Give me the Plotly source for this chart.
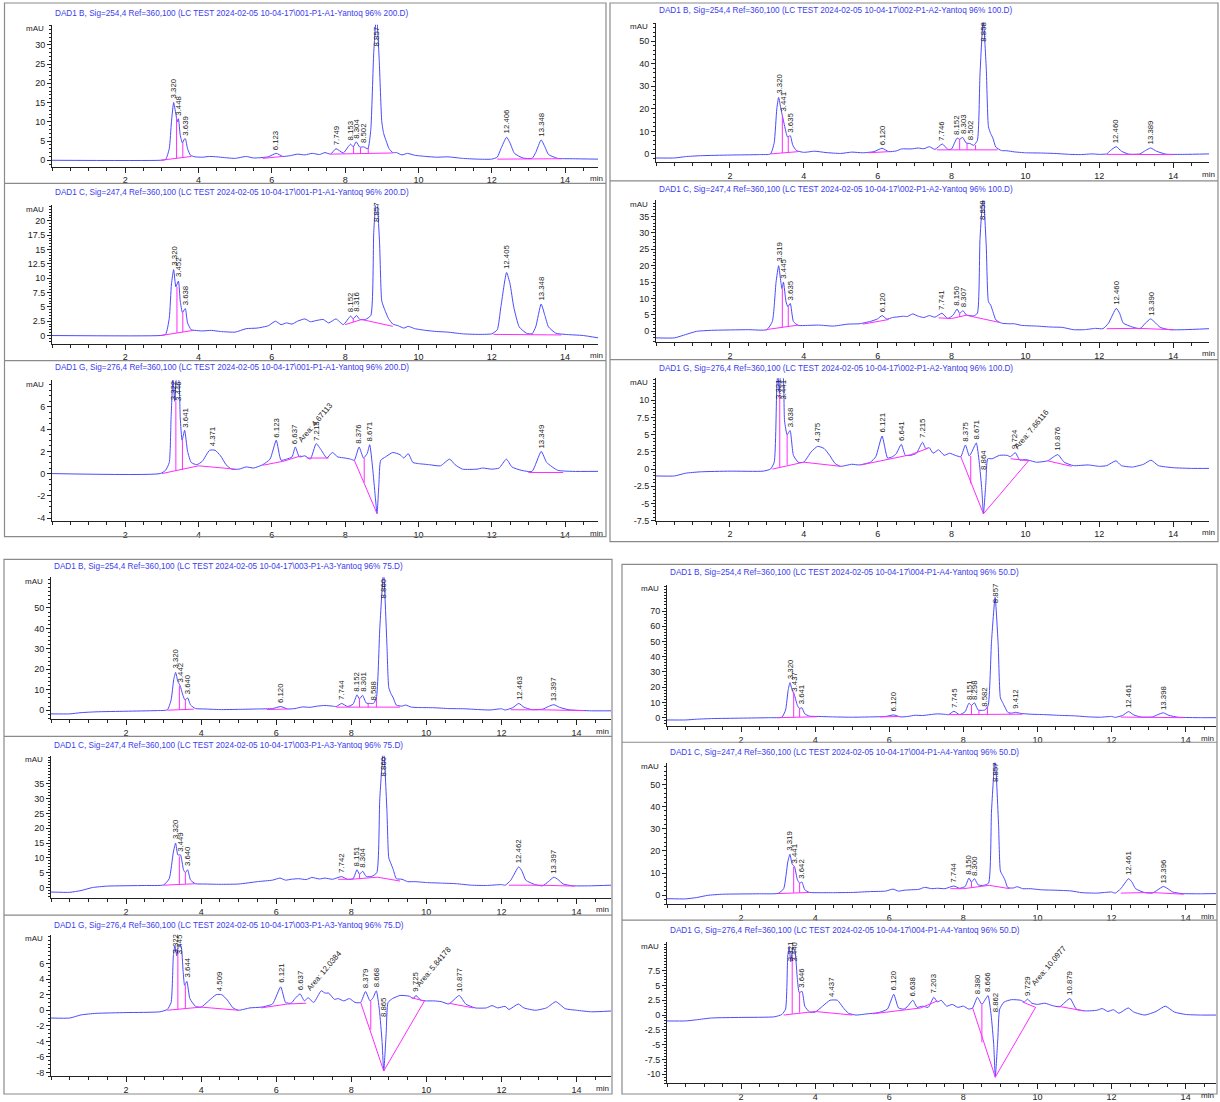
import plotly.graph_objects as go

# ------------------------------------------------------------------
# Values (time in min, signal in mAU)
# ------------------------------------------------------------------
A1_B = [(0,0),(2.95,0),(3.1,0.2),(3.2,3),(3.26,10),(3.32,15),(3.38,12),(3.42,10),(3.45,10.8),(3.5,6.5),(3.56,4.5),(3.61,5.5),(3.64,5.6),(3.7,3),(3.78,1.3),(3.9,0.9),(4.1,0.8),(4.3,1.0),(4.5,0.9),(4.7,0.7),(5.0,0.5),(5.3,1.0),(5.5,0.6),(5.9,0.9),(6.12,1.8),(6.3,1.0),(6.5,1.2),(6.7,1.6),(6.9,1.4),(7.1,1.8),(7.3,1.5),(7.45,2.0),(7.6,1.6),(7.75,3.0),(7.95,1.9),(8.08,3.5),(8.15,4.2),(8.22,3.5),(8.3,4.8),(8.4,3.4),(8.5,3.5),(8.62,3.0),(8.7,8),(8.78,28),(8.857,38),(8.93,26),(9.0,10),(9.05,7),(9.12,5),(9.2,3),(9.3,2.0),(9.4,2.0),(9.55,1.4),(9.7,1.8),(9.9,1.3),(10.2,1.0),(10.5,0.8),(10.8,0.9),(11.2,0.5),(11.6,0.3),(12.0,0.3),(12.15,0.8),(12.25,3),(12.406,6.0),(12.5,4.5),(12.62,1.8),(12.85,0.6),(13.1,0.5),(13.2,2),(13.348,5.3),(13.45,3.5),(13.55,1.5),(13.8,0.5),(14.2,0.4),(14.9,0.3)]
A1_C = [(0,0),(2.95,0),(3.1,0.2),(3.2,3),(3.26,9),(3.32,11.5),(3.38,8.5),(3.45,9.5),(3.5,6),(3.56,4),(3.62,4.6),(3.64,4.7),(3.7,2.2),(3.8,1.0),(3.9,0.9),(4.1,0.8),(4.35,0.9),(4.6,0.7),(5.0,0.6),(5.3,1.2),(5.6,1.3),(5.9,1.7),(6.1,2.5),(6.25,1.9),(6.4,2.2),(6.55,2.0),(6.7,2.5),(6.9,2.9),(7.05,2.4),(7.2,2.6),(7.4,2.8),(7.55,2.2),(7.75,2.9),(7.95,1.9),(8.15,3.4),(8.22,2.9),(8.31,3.5),(8.4,2.8),(8.55,2.8),(8.7,3.5),(8.78,18),(8.857,25),(8.94,16),(9.0,6),(9.08,4.5),(9.18,3),(9.3,2.0),(9.45,1.7),(9.6,1.3),(9.72,1.6),(9.9,1.2),(10.2,0.9),(10.5,0.7),(10.8,0.6),(11.2,0.3),(11.6,0.2),(12.0,0.3),(12.15,1),(12.25,5),(12.405,11),(12.5,9),(12.6,5),(12.75,1.5),(12.95,0.4),(13.1,0.3),(13.2,1.5),(13.348,5.5),(13.45,3.5),(13.55,1.5),(13.75,0.4),(14.0,0.2),(14.5,0.0),(14.9,-0.4)]
A1_G = [(0,0),(2.95,0),(3.1,0.3),(3.2,1),(3.25,5),(3.30,8.6),(3.35,6.5),(3.40,8.6),(3.45,8.6),(3.5,5),(3.55,3.0),(3.62,3.9),(3.7,2.0),(3.8,1.0),(3.95,0.8),(4.1,1.1),(4.3,2.1),(4.45,2.1),(4.6,1.6),(4.75,0.8),(4.9,0.4),(5.1,0.4),(5.3,0.6),(5.5,0.5),(5.75,0.8),(5.95,1.3),(6.12,3.0),(6.25,1.2),(6.4,1.3),(6.55,1.5),(6.64,2.4),(6.75,1.5),(6.9,1.6),(7.05,1.3),(7.21,2.7),(7.35,2.1),(7.5,1.4),(7.65,1.9),(7.8,1.5),(8.0,1.4),(8.15,1.3),(8.25,1.2),(8.38,2.4),(8.5,1.4),(8.6,1.8),(8.67,2.6),(8.75,0.5),(8.82,-2),(8.87,-3.6),(8.92,-1),(8.97,1.2),(9.1,1.5),(9.3,1.9),(9.5,1.7),(9.6,1.4),(9.72,1.8),(9.85,1.0),(10.0,0.9),(10.3,0.8),(10.6,0.7),(10.85,1.3),(11.0,0.8),(11.2,0.4),(11.6,0.4),(11.75,0.5),(12.0,0.4),(12.2,0.5),(12.4,1.3),(12.55,0.6),(12.8,0.3),(13.1,0.2),(13.35,2.0),(13.5,1.0),(13.8,0.3),(14.2,0.2),(14.9,0.2)]
A2_B = [(0,-1.8),(0.5,-1.8),(0.8,-1.2),(1.2,-0.8),(2.0,-0.5),(2.8,-0.3),(3.1,0),(3.2,5),(3.27,20),(3.32,25),(3.38,20),(3.42,17),(3.5,11),(3.56,7.5),(3.62,8),(3.64,8),(3.7,4),(3.8,1.5),(4.0,0.7),(4.3,1.2),(4.6,0.6),(5.0,0.2),(5.3,0.8),(5.6,0.5),(5.9,1.0),(6.12,2.5),(6.3,1.0),(6.5,1.3),(6.65,2.2),(6.9,2.2),(7.1,2.6),(7.25,2.3),(7.4,3.2),(7.55,2.0),(7.75,4.4),(7.9,2.0),(8.0,2.2),(8.15,7),(8.22,6.5),(8.3,7.3),(8.4,4.8),(8.5,4.6),(8.6,3.8),(8.7,6),(8.77,35),(8.858,60),(8.94,38),(9.0,12),(9.06,9),(9.12,7),(9.2,3),(9.35,1.5),(9.5,1.4),(9.7,0.9),(10.0,0.5),(10.4,0.4),(10.8,0.2),(11.2,-0.2),(11.5,-0.3),(11.8,0.0),(12.0,-0.2),(12.2,0),(12.3,1.5),(12.46,3.2),(12.6,1.2),(12.8,-0.1),(13.1,0),(13.25,1.5),(13.39,2.6),(13.55,1.2),(13.8,-0.1),(14.3,-0.2),(14.97,0)]
A2_C = [(0,-2.0),(0.5,-2.0),(0.8,-1.0),(1.1,0.0),(1.5,0.3),(2.5,0.5),(3.0,0.5),(3.15,3),(3.25,15),(3.32,20),(3.38,15),(3.41,13),(3.45,15),(3.52,9),(3.57,7.5),(3.635,8.5),(3.72,3),(3.85,1.8),(4.1,1.8),(4.4,1.9),(4.8,1.6),(5.2,2.2),(5.5,2.3),(5.8,3),(6.0,3.8),(6.12,4.8),(6.25,3.7),(6.4,4.2),(6.55,4.4),(6.7,4.6),(6.8,4.5),(6.95,5.3),(7.1,4.6),(7.25,4.2),(7.4,4.8),(7.55,4.3),(7.74,5.5),(7.9,3.9),(8.05,5),(8.15,6.8),(8.22,5.5),(8.31,6.3),(8.4,5),(8.6,4.7),(8.7,5.5),(8.77,28),(8.858,42),(8.94,26),(9.0,9),(9.06,8),(9.12,6),(9.2,3.5),(9.35,2.5),(9.55,2.3),(9.7,2.3),(9.9,1.8),(10.3,1.6),(10.7,1.3),(11.0,1.2),(11.3,0.5),(11.6,0.5),(11.9,0.9),(12.1,0.8),(12.25,2.5),(12.46,7),(12.55,5.5),(12.65,2.5),(12.9,1.3),(13.1,0.8),(13.25,2.5),(13.39,3.8),(13.5,2.8),(13.65,1.2),(13.9,0.5),(14.3,0.5),(14.97,0.8)]
A2_G = [(0,-1.0),(0.5,-1.0),(0.8,-0.6),(1.2,-0.4),(2.0,-0.3),(2.9,-0.3),(3.1,0.0),(3.2,1),(3.27,12),(3.30,14),(3.34,11),(3.38,14),(3.43,14),(3.48,7),(3.55,5),(3.63,5.6),(3.72,2.0),(3.85,1.0),(4.0,1.0),(4.2,2.5),(4.375,3.3),(4.55,3.0),(4.7,2.0),(4.85,0.8),(5.0,0.4),(5.3,0.7),(5.5,0.6),(5.8,1.0),(5.95,1.8),(6.12,4.8),(6.27,1.6),(6.4,1.8),(6.5,2.2),(6.64,3.6),(6.75,2.0),(6.9,2.0),(7.05,2.3),(7.215,3.9),(7.3,3.0),(7.4,3.1),(7.5,2.3),(7.65,2.8),(7.8,2.0),(7.95,2.3),(8.1,2.0),(8.25,1.8),(8.375,3.5),(8.48,1.9),(8.55,2.5),(8.671,3.8),(8.75,1.0),(8.82,-3),(8.864,-6.5),(8.93,-2),(8.98,1.5),(9.1,1.5),(9.3,2.0),(9.5,2.0),(9.6,1.8),(9.724,2.4),(9.85,1.3),(10.0,1.4),(10.3,1.0),(10.6,1.2),(10.876,2.1),(11.05,1.0),(11.3,0.5),(11.7,0.6),(12.0,0.4),(12.2,0.5),(12.45,1.2),(12.6,0.5),(12.9,0.3),(13.2,0.7),(13.4,1.3),(13.6,0.5),(14.0,0.2),(14.5,0.1),(14.97,0.1)]
A3_B = [(0,-1.8),(0.5,-1.8),(0.8,-1.2),(1.2,-0.8),(2.0,-0.5),(2.8,-0.2),(3.1,0.2),(3.2,5),(3.27,15),(3.32,18.5),(3.38,14),(3.44,12),(3.52,7),(3.57,5),(3.64,6),(3.72,2.5),(3.85,0.8),(4.1,0.6),(4.5,0.3),(5.0,0.4),(5.5,0.6),(5.9,0.8),(6.12,1.8),(6.3,0.6),(6.5,0.8),(6.7,1.6),(6.9,1.4),(7.1,2.0),(7.3,2.3),(7.5,2.0),(7.6,1.8),(7.744,3.3),(7.9,1.8),(8.05,3),(8.152,7.5),(8.22,5.5),(8.30,7.3),(8.4,3.5),(8.5,3.3),(8.588,3.3),(8.67,6),(8.76,40),(8.86,68),(8.95,32),(9.0,11),(9.06,8),(9.12,6),(9.2,2.5),(9.35,2.0),(9.45,2.5),(9.6,1.5),(9.8,1.3),(10.2,1.2),(10.6,0.8),(11.0,0.7),(11.4,0.3),(11.7,0.1),(12.0,0.7),(12.1,0.1),(12.3,1.2),(12.463,3.3),(12.6,1.5),(12.8,0.3),(13.1,0.5),(13.25,1.8),(13.397,2.7),(13.55,1.4),(13.8,0.2),(14.4,-0.3),(14.92,-0.3)]
A3_C = [(0,-1.5),(0.5,-1.6),(0.8,-1.0),(1.1,0),(1.5,0.5),(2.5,0.7),(3.0,0.9),(3.15,3),(3.26,12),(3.32,15),(3.38,11),(3.45,11),(3.53,6),(3.58,5),(3.64,6),(3.72,2.5),(3.85,1.3),(4.1,1.2),(4.5,1.1),(5.0,1.2),(5.5,2.0),(5.9,2.5),(6.1,3.2),(6.25,2.5),(6.4,2.8),(6.6,3.0),(6.8,2.7),(6.95,3.4),(7.15,2.9),(7.3,3.2),(7.5,2.8),(7.742,3.7),(7.9,2.8),(8.05,3.0),(8.151,6.0),(8.22,4.5),(8.304,5.5),(8.4,3.7),(8.55,3.8),(8.68,5),(8.76,30),(8.86,47),(8.95,26),(9.0,10),(9.06,8),(9.12,6),(9.2,3),(9.35,2.8),(9.5,2.0),(9.7,2.0),(10.0,1.7),(10.4,1.5),(10.8,1.3),(11.2,0.8),(11.6,0.7),(12.0,1.0),(12.1,0.8),(12.25,2.5),(12.462,7.0),(12.55,5.5),(12.65,2.5),(12.9,1.0),(13.1,0.6),(13.25,2),(13.397,3.5),(13.5,2.8),(13.65,1.2),(13.9,0.6),(14.4,0.6),(14.92,0.8)]
A3_G = [(0,-1.0),(0.5,-1.0),(0.8,-0.6),(1.2,-0.4),(2.0,-0.3),(2.9,-0.2),(3.1,0.1),(3.2,1),(3.26,7.0),(3.30,8.3),(3.35,7.0),(3.40,8.3),(3.46,8.3),(3.52,5),(3.56,3.2),(3.62,3.7),(3.7,1.5),(3.85,0.5),(4.0,0.4),(4.2,1.2),(4.4,2.0),(4.55,2.0),(4.7,1.3),(4.85,0.3),(5.0,0.0),(5.3,0.3),(5.6,0.4),(5.9,0.8),(6.121,3.0),(6.25,1.0),(6.4,0.9),(6.5,1.5),(6.637,2.1),(6.75,1.2),(6.85,1.6),(7.0,1.0),(7.2,2.5),(7.3,2.2),(7.4,2.2),(7.55,1.4),(7.65,1.5),(7.8,1.2),(7.95,1.5),(8.1,1.0),(8.25,1.0),(8.379,2.4),(8.5,1.2),(8.58,1.6),(8.668,2.5),(8.75,0),(8.82,-4),(8.865,-7.8),(8.93,-3),(8.98,1.0),(9.1,1.5),(9.3,1.9),(9.55,1.8),(9.65,1.5),(9.725,1.9),(9.85,1.3),(10.0,1.2),(10.2,1.2),(10.4,1.1),(10.6,0.8),(10.877,1.9),(11.05,0.8),(11.3,0.3),(11.6,0.3),(11.75,0.6),(11.9,0.3),(12.1,0.5),(12.2,0.1),(12.45,0.8),(12.6,0.3),(12.9,0.0),(13.2,0.3),(13.45,1.1),(13.7,0.2),(14.0,0.0),(14.4,-0.2),(14.92,-0.1)]
A4_B = [(0,-1.5),(0.5,-1.5),(0.8,-1.0),(1.2,-0.6),(2.0,-0.3),(2.8,0),(3.1,0.3),(3.2,5),(3.27,18),(3.32,23),(3.38,18),(3.44,15),(3.52,8),(3.58,6),(3.641,6.5),(3.72,2.5),(3.85,1),(4.1,0.8),(4.5,0.5),(5.0,0.3),(5.5,0.5),(5.9,0.8),(6.12,1.8),(6.3,0.5),(6.5,0.8),(6.7,1.6),(6.9,1.4),(7.1,2.0),(7.3,2.5),(7.5,2.2),(7.6,2),(7.745,4.2),(7.9,2),(8.05,4),(8.151,9.5),(8.22,8),(8.298,9.8),(8.4,5),(8.5,4.8),(8.582,5.0),(8.67,8),(8.76,50),(8.857,79),(8.94,48),(9.0,13),(9.06,10),(9.12,7),(9.2,3.5),(9.3,3),(9.412,3.5),(9.55,2.8),(9.8,2.3),(10.2,2.0),(10.6,1.5),(11.0,1.2),(11.4,0.5),(11.7,0.3),(12.0,0.8),(12.1,0.2),(12.3,1.5),(12.461,4.0),(12.6,1.8),(12.8,0.4),(13.1,0.5),(13.25,2),(13.398,3.2),(13.55,1.5),(13.8,0.3),(14.4,0),(14.85,0)]
A4_C = [(0,-1.5),(0.5,-1.6),(0.8,-1.0),(1.1,0),(1.5,0.5),(2.5,0.7),(3.0,0.9),(3.15,3),(3.26,15),(3.319,18.5),(3.38,14),(3.441,13),(3.52,7),(3.58,5.5),(3.642,6),(3.72,2.5),(3.85,1.3),(4.1,1.2),(4.5,1.2),(5.0,1.3),(5.5,1.7),(5.9,1.9),(6.1,2.8),(6.25,1.9),(6.4,2.3),(6.6,2.5),(6.8,2.7),(6.95,3.6),(7.15,3.0),(7.3,3.2),(7.5,3.0),(7.744,4.2),(7.9,3.2),(8.05,4.0),(8.150,7.8),(8.22,6),(8.300,7.5),(8.4,4.7),(8.55,4.5),(8.68,5.5),(8.76,38),(8.857,62),(8.95,32),(9.0,11),(9.06,9),(9.12,7),(9.2,3.5),(9.35,3.3),(9.45,3.9),(9.6,3.0),(9.8,3.0),(10.1,2.5),(10.5,2.3),(10.9,2.0),(11.2,1.2),(11.6,1.0),(12.0,1.5),(12.1,1.0),(12.25,3),(12.461,7.5),(12.55,6),(12.65,3),(12.9,1.2),(13.1,1.0),(13.25,2.5),(13.396,4.0),(13.5,3.2),(13.65,1.5),(13.9,0.8),(14.4,0.7),(14.85,0.8)]
A4_G = [(0,-1.0),(0.5,-1.0),(0.8,-0.8),(1.2,-0.5),(2.0,-0.4),(2.9,-0.3),(3.1,0.1),(3.2,1),(3.26,10),(3.30,11.5),(3.34,9),(3.40,11.5),(3.46,10.5),(3.52,6),(3.57,3.8),(3.646,4.0),(3.72,1.5),(3.85,0.5),(4.0,0.5),(4.2,1.5),(4.4,2.5),(4.6,2.5),(4.75,1.3),(4.9,0.3),(5.1,0.0),(5.4,0.2),(5.7,0.4),(5.95,1.0),(6.12,3.5),(6.25,1.2),(6.4,1.0),(6.5,1.5),(6.638,2.5),(6.75,1.3),(6.9,1.5),(7.05,1.3),(7.203,3.0),(7.3,2.2),(7.4,2.5),(7.55,1.5),(7.7,1.8),(7.85,1.3),(8.0,1.5),(8.15,1.0),(8.25,1.2),(8.38,3.0),(8.5,1.8),(8.58,2.5),(8.666,3.3),(8.75,0),(8.82,-5),(8.862,-10.5),(8.93,-4),(8.98,1.0),(9.1,2.2),(9.3,2.6),(9.55,2.5),(9.65,2.2),(9.729,2.7),(9.85,2.0),(10.0,1.8),(10.2,2.0),(10.4,1.6),(10.6,1.4),(10.879,2.8),(11.05,1.0),(11.3,0.7),(11.6,0.8),(11.75,1.1),(11.9,0.6),(12.05,0.9),(12.2,0.3),(12.45,1.2),(12.6,0.5),(12.9,0),(13.2,0.6),(13.45,1.5),(13.7,0.5),(14.0,0.1),(14.4,0.0),(14.85,0.0)]

# integration baselines (polylines) and drop lines (time, from, to)
BASE_A1_B = [[(2.97,0),(3.8,1.0)],[(5.75,0.5),(6.3,1.0)],[(7.6,1.6),(9.3,1.9)],[(12.15,0.3),(13.05,0.4),(13.9,0.4)]]
DROP_A1_B = [(3.40,0.5,10.8),(3.57,0.7,4.5),(7.97,1.7,1.9),(8.23,1.75,3.5),(8.42,1.75,3.3),(8.63,1.8,3.2)]
BASE_A1_C = [[(2.97,0),(3.85,0.9)],[(8.0,1.9),(8.45,2.8),(9.3,1.6)],[(12.05,0.2),(13.9,0.1)]]
DROP_A1_C = [(3.41,0.45,8.5),(3.57,0.6,4.0),(8.22,2.3,2.9),(13.1,0.15,0.3)]
BASE_A1_G = [[(3.0,0),(4.0,0.7),(5.0,0.4)],[(5.75,0.75),(6.3,1.1),(6.8,1.6)],[(6.95,1.4),(7.55,1.4)],[(8.25,1.2),(8.87,-3.6)],[(13.0,0.1),(13.95,0.1)]]
DROP_A1_G = [(3.38,0.25,6.5),(3.56,0.35,3.0),(8.52,-0.8,1.4)]
BASE_A2_B = [[(3.1,0),(3.85,1.0)],[(5.75,0.5),(6.3,1.0)],[(7.6,1.8),(9.25,1.8)],[(12.2,-0.2),(13.05,-0.2),(14.0,-0.3)]]
DROP_A2_B = [(3.42,0.4,17),(3.58,0.6,7.5),(7.97,1.8,2.1),(8.22,1.8,6.5),(8.42,1.8,4.8),(8.65,1.8,3.9)]
BASE_A2_C = [[(2.97,0.5),(3.85,1.9)],[(5.6,2.2),(6.3,3.6)],[(7.65,4.1),(8.0,3.9),(8.4,4.9),(9.3,2.7)],[(12.2,0.8),(13.05,0.9),(14.0,0.5)]]
DROP_A2_C = [(3.42,1.2,13),(3.58,1.4,7.5),(8.22,4.4,5.5)]
BASE_A2_G = [[(3.15,0),(3.85,0.9),(4.0,1.0),(5.0,0.4)],[(5.55,0.6),(6.9,2.1),(7.35,3.0)],[(8.25,1.8),(8.864,-6.5),(10.1,1.3)],[(9.6,1.5),(10.1,1.2)],[(10.6,1.2),(11.25,0.4)]]
DROP_A2_G = [(3.35,0.3,11),(3.55,0.6,5),(8.52,-2.1,1.9)]
BASE_A3_B = [[(3.1,0),(3.8,0.5)],[(5.75,0.3),(6.3,0.6)],[(7.6,1.5),(9.3,1.5)],[(12.25,0.2),(13.05,0.2),(14.2,-0.2)]]
DROP_A3_B = [(3.42,0.25,12),(3.58,0.35,5),(7.97,1.5,1.9),(8.22,1.5,5.5),(8.45,1.5,3.4),(8.67,1.5,6)]
BASE_A3_C = [[(3.0,0.8),(3.85,1.3)],[(7.65,2.8),(8.0,2.8),(8.7,3.5),(9.3,2.2)],[(12.2,0.8),(13.05,0.8),(13.95,0.5)]]
DROP_A3_C = [(3.42,1.1,10.5),(3.58,1.2,5),(8.22,3.0,4.5)]
BASE_A3_G = [[(3.1,0),(4.0,0.4),(5.0,0.0)],[(5.6,0.3),(6.3,0.8),(6.8,0.9)],[(8.25,1.0),(8.865,-7.8),(9.95,1.2)],[(9.6,1.6),(9.95,1.2)],[(10.6,0.9),(11.25,0.3)]]
DROP_A3_G = [(3.38,0.1,7.5),(3.58,0.2,3.2),(8.52,-2.5,1.2)]
BASE_A4_B = [[(3.0,0),(4.05,0.6)],[(5.75,0.5),(6.3,0.8)],[(7.6,2.0),(9.6,2.3)],[(12.25,0.4),(13.05,0.2),(13.95,0)]]
DROP_A4_B = [(3.42,0.25,17),(3.58,0.35,6),(7.97,2,2.5),(8.22,2.05,8),(8.42,2.1,5),(8.65,2.1,7),(9.25,2.2,3)]
BASE_A4_C = [[(3.0,0.8),(3.85,1.3)],[(7.65,3),(8.0,3),(8.7,4.5),(9.25,3)],[(12.25,1.0),(13.05,1.3),(13.95,0.5)]]
DROP_A4_C = [(3.42,1.1,13),(3.58,1.2,5.5),(8.22,3.6,6)]
BASE_A4_G = [[(3.15,0),(4.0,0.6),(5.0,0.0)],[(5.55,0.2),(6.3,0.8),(6.85,1.2),(7.3,2.4)],[(8.25,1.2),(8.862,-10.5),(9.95,1.3)],[(9.6,2.2),(9.95,1.3)],[(10.55,1.5),(11.25,0.7)]]
DROP_A4_G = [(3.38,0.2,10),(3.58,0.4,3.8),(8.5,-4.6,1.8)]

# peak labels: (time, label foot in mAU, text)
LAB_A1_B = [(3.32,15.2,"3.320"),(3.448,10.9,"3.448"),(3.639,5.7,"3.639"),(6.123,1.9,"6.123"),(7.749,3.1,"7.749"),(8.153,4.3,"8.153"),(8.304,4.9,"8.304"),(8.502,3.6,"8.502"),(8.857,28.7,"8.857"),(12.406,6.1,"12.406"),(13.348,5.4,"13.348")]
LAB_A1_C = [(3.32,11.6,"3.320"),(3.452,9.6,"3.452"),(3.638,4.8,"3.638"),(8.152,3.5,"8.152"),(8.316,3.6,"8.316"),(8.857,19.2,"8.857"),(12.405,11.1,"12.405"),(13.348,5.6,"13.348")]
LAB_A1_G = [(3.322,6.3,"3.322"),(3.446,6.3,"3.446"),(3.641,3.9,"3.641"),(4.371,2.2,"4.371"),(6.123,3.0,"6.123"),(6.637,2.4,"6.637"),(7.213,2.7,"7.213"),(8.376,2.4,"8.376"),(8.671,2.6,"8.671"),(13.349,2.0,"13.349")]
LAB_A2_B = [(3.32,25.2,"3.320"),(3.441,17.5,"3.441"),(3.635,8.2,"3.635"),(6.12,2.6,"6.120"),(7.746,4.5,"7.746"),(8.152,7.1,"8.152"),(8.303,7.4,"8.303"),(8.502,4.8,"8.502"),(8.858,48.5,"8.858"),(12.46,3.3,"12.460"),(13.389,2.7,"13.389")]
LAB_A2_C = [(3.319,20.2,"3.319"),(3.445,15.2,"3.445"),(3.635,8.6,"3.635"),(6.12,4.9,"6.120"),(7.741,5.6,"7.741"),(8.15,6.9,"8.150"),(8.307,6.4,"8.307"),(8.858,33.1,"8.858"),(12.46,7.1,"12.460"),(13.39,3.9,"13.390")]
LAB_A2_G = [(3.321,9.7,"3.321"),(3.441,9.7,"3.441"),(3.638,5.7,"3.638"),(4.375,3.4,"4.375"),(6.121,4.9,"6.121"),(6.641,3.7,"6.641"),(7.215,4.0,"7.215"),(8.375,3.6,"8.375"),(8.671,3.9,"8.671"),(8.864,-0.5,"8.864"),(9.724,2.5,"9.724"),(10.876,2.2,"10.876")]
LAB_A3_B = [(3.32,18.7,"3.320"),(3.442,12.2,"3.442"),(3.64,6.1,"3.640"),(6.12,1.9,"6.120"),(7.744,3.4,"7.744"),(8.152,7.6,"8.152"),(8.301,7.4,"8.301"),(8.588,3.4,"8.588"),(8.86,53,"8.860"),(12.463,3.4,"12.463"),(13.397,2.8,"13.397")]
LAB_A3_C = [(3.32,15.2,"3.320"),(3.449,11.2,"3.449"),(3.64,6.1,"3.640"),(7.742,3.8,"7.742"),(8.151,6.1,"8.151"),(8.304,5.6,"8.304"),(8.86,36.3,"8.860"),(12.462,7.1,"12.462"),(13.397,3.6,"13.397")]
LAB_A3_G = [(3.322,6.85,"3.322"),(3.445,6.85,"3.445"),(3.644,3.8,"3.644"),(4.509,2.1,"4.509"),(6.121,3.1,"6.121"),(6.637,2.2,"6.637"),(8.379,2.5,"8.379"),(8.668,2.6,"8.668"),(8.865,-1.3,"8.865"),(9.725,2.0,"9.725"),(10.877,2.0,"10.877")]
LAB_A4_B = [(3.32,23.3,"3.320"),(3.437,15.3,"3.437"),(3.641,6.7,"3.641"),(6.12,1.9,"6.120"),(7.745,4.3,"7.745"),(8.151,9.6,"8.151"),(8.298,9.9,"8.298"),(8.582,5.1,"8.582"),(8.857,73.3,"8.857"),(9.412,3.6,"9.412"),(12.461,4.1,"12.461"),(13.398,3.3,"13.398")]
LAB_A4_C = [(3.319,18.7,"3.319"),(3.441,13.2,"3.441"),(3.642,6.1,"3.642"),(7.744,4.3,"7.744"),(8.15,7.9,"8.150"),(8.3,7.6,"8.300"),(8.857,49.7,"8.857"),(12.461,7.6,"12.461"),(13.396,4.1,"13.396")]
LAB_A4_G = [(3.321,8.6,"3.321"),(3.44,8.6,"3.440"),(3.646,4.1,"3.646"),(4.437,2.6,"4.437"),(6.12,3.6,"6.120"),(6.638,2.6,"6.638"),(7.203,3.1,"7.203"),(8.38,3.1,"8.380"),(8.666,3.4,"8.666"),(8.862,0.0,"8.862"),(9.729,2.8,"9.729"),(10.879,2.9,"10.879")]

# manual-integration area notes: (time, mAU, text)
AREA_A1_G = [(7.19,4.6,"Area: 4.67113")]
AREA_A2_G = [(10.16,5.8,"Area: 7.66116")]
AREA_A3_G = [(7.28,5.15,"Area: 12.0384"),(10.2,5.6,"Area: 5.84178")]
AREA_A4_G = [(10.31,8.4,"Area: 10.0977")]

SAMPLES = {"A1": "001-P1-A1-Yantoq 96% 200.D", "A2": "002-P1-A2-Yantoq 96% 100.D",
           "A3": "003-P1-A3-Yantoq 96% 75.D", "A4": "004-P1-A4-Yantoq 96% 50.D"}
SIGNALS = {"B": "DAD1 B, Sig=254,4 Ref=360,100", "C": "DAD1 C, Sig=247,4 Ref=360,100",
           "G": "DAD1 G, Sig=276,4 Ref=360,100"}

# y axis: (labelled ticks, minor step)
YTICKS = {
    "A1_B": ([0,5,10,15,20,25,30], 1), "A1_C": ([0,2.5,5,7.5,10,12.5,15,17.5,20], 0.5),
    "A1_G": ([-4,-2,0,2,4,6], 0.5),
    "A2_B": ([0,10,20,30,40,50], 2), "A2_C": ([0,5,10,15,20,25,30,35], 1),
    "A2_G": ([-7.5,-5,-2.5,0,2.5,5,7.5,10], 0.5),
    "A3_B": ([0,10,20,30,40,50], 2), "A3_C": ([0,5,10,15,20,25,30,35], 1),
    "A3_G": ([-8,-6,-4,-2,0,2,4,6], 0.5),
    "A4_B": ([0,10,20,30,40,50,60,70], 2), "A4_C": ([0,10,20,30,40,50], 2),
    "A4_G": ([-10,-7.5,-5,-2.5,0,2.5,5,7.5], 0.5),
}
XTICKS = [2, 4, 6, 8, 10, 12, 14]

DATA = {"A1_B": (A1_B, BASE_A1_B, DROP_A1_B, LAB_A1_B, []),
        "A1_C": (A1_C, BASE_A1_C, DROP_A1_C, LAB_A1_C, []),
        "A1_G": (A1_G, BASE_A1_G, DROP_A1_G, LAB_A1_G, AREA_A1_G),
        "A2_B": (A2_B, BASE_A2_B, DROP_A2_B, LAB_A2_B, []),
        "A2_C": (A2_C, BASE_A2_C, DROP_A2_C, LAB_A2_C, []),
        "A2_G": (A2_G, BASE_A2_G, DROP_A2_G, LAB_A2_G, AREA_A2_G),
        "A3_B": (A3_B, BASE_A3_B, DROP_A3_B, LAB_A3_B, []),
        "A3_C": (A3_C, BASE_A3_C, DROP_A3_C, LAB_A3_C, []),
        "A3_G": (A3_G, BASE_A3_G, DROP_A3_G, LAB_A3_G, AREA_A3_G),
        "A4_B": (A4_B, BASE_A4_B, DROP_A4_B, LAB_A4_B, []),
        "A4_C": (A4_C, BASE_A4_C, DROP_A4_C, LAB_A4_C, []),
        "A4_G": (A4_G, BASE_A4_G, DROP_A4_G, LAB_A4_G, AREA_A4_G)}

# ------------------------------------------------------------------
# Layout geometry (pixels)
# ------------------------------------------------------------------
W, H = 1220, 1102
BLUE = "#4a4aff"
TBLUE = "#3c3cf0"
MAG = "#ff2bff"
INK = "#222222"
FONT = "Liberation Sans Narrow, Arial Narrow, Liberation Sans, Arial, sans-serif"

GROUPS = {
    "A1": dict(x0=52, x1=598, xr=14.9, frame=(4.5, 606, 3, 540), seps=(184.5, 363)),
    "A2": dict(x0=656, x1=1209, xr=14.97, frame=(610, 1218, 3, 545), seps=(182, 362)),
    "A3": dict(x0=51, x1=611, xr=14.92, frame=(4, 612, 563, 1101), seps=(741, 921)),
    "A4": dict(x0=667, x1=1216, xr=14.82, frame=(622, 1217, 568, 1101), seps=(747, 926)),
}
PANELS = {
    "A1_B": (25, 167.7, 35.2, -1.65, 14), "A1_C": (206.7, 345.7, 22.7, -1.39, 194),
    "A1_G": (382.7, 524.7, 8.4, -4.3, 370),
    "A2_B": (22.7, 163.3, 58.2, -3.7, 11), "A2_C": (201.7, 344, 39.9, -3.2, 191),
    "A2_G": (380.7, 524, 13.2, -7.5, 371),
    "A3_B": (581, 724, 65, -4.5, 570), "A3_C": (760.7, 903.7, 44.4, -3.5, 750),
    "A3_G": (940.7, 1083.3, 9.7, -8.5, 931),
    "A4_B": (588.3, 731, 87.4, -5.7, 576), "A4_C": (767.7, 910, 59.7, -4, 757),
    "A4_G": (948.3, 1090, 12.3, -11.5, 936),
}

def px(x):
    return x / W

def py(y):
    return 1 - y / H

def fmt(v):
    return ("%g" % v)

fig = go.Figure()
layout = dict(width=W, height=H, margin=dict(l=0, r=0, t=0, b=0),
              paper_bgcolor="white", plot_bgcolor="white", showlegend=False,
              font=dict(family=FONT, size=9, color=INK))
annotations = []
shapes = []

for i, key in enumerate(PANELS, start=1):
    grp, sig = key.split("_")
    g = GROUPS[grp]
    top, bot, ymax, ymin, ty = PANELS[key]
    trace, bases, drops, labels, areas = DATA[key]
    xa = "x" if i == 1 else "x%d" % i
    ya = "y" if i == 1 else "y%d" % i
    xl = "xaxis" if i == 1 else "xaxis%d" % i
    yl = "yaxis" if i == 1 else "yaxis%d" % i

    fig.add_trace(go.Scatter(x=[p[0] for p in trace], y=[p[1] for p in trace],
                             mode="lines", line=dict(color=BLUE, width=1, shape="spline", smoothing=0.5),
                             xaxis=xa, yaxis=ya, hoverinfo="skip"))
    bx, by = [], []
    for seg in bases:
        bx += [p[0] for p in seg] + [None]
        by += [p[1] for p in seg] + [None]
    for t, a, b in drops:
        bx += [t, t, None]
        by += [a, b, None]
    fig.add_trace(go.Scatter(x=bx, y=by, mode="lines", line=dict(color=MAG, width=1),
                             xaxis=xa, yaxis=ya, hoverinfo="skip", connectgaps=False))

    yt, ymn = YTICKS[key]
    layout[xl] = dict(domain=[px(g["x0"]), px(g["x1"])], range=[0, g["xr"]], anchor=ya,
                      showgrid=False, zeroline=False, showline=True, linecolor=INK, linewidth=1,
                      tickmode="array", tickvals=XTICKS, ticktext=[str(v) for v in XTICKS],
                      ticks="outside", ticklen=5, tickcolor=INK, tickfont=dict(size=9, color=INK),
                      minor=dict(tickmode="linear", tick0=0, dtick=0.5, ticks="outside", ticklen=3,
                                 tickcolor=INK, showgrid=False),
                      fixedrange=True)
    layout[yl] = dict(domain=[py(bot), py(top)], range=[ymin, ymax], anchor=xa,
                      showgrid=False, zeroline=False, showline=True, linecolor=INK, linewidth=1,
                      tickmode="array", tickvals=yt, ticktext=[fmt(v) for v in yt],
                      ticks="outside", ticklen=4, tickcolor=INK, tickfont=dict(size=9, color=INK),
                      minor=dict(tickmode="linear", tick0=0, dtick=ymn, ticks="outside", ticklen=2,
                                 tickcolor=INK, showgrid=False),
                      fixedrange=True)

    annotations.append(dict(xref="paper", yref="paper", x=px(g["x0"] + 1), y=py(ty),
                            xanchor="left", yanchor="middle", showarrow=False,
                            text=SIGNALS[sig] + " (LC TEST 2024-02-05 10-04-17\\" + SAMPLES[grp] + ")",
                            font=dict(size=8.2, color=TBLUE, family=FONT)))
    annotations.append(dict(xref="paper", yref="paper", x=px(g["x0"] - 6), y=py(top + 4),
                            xanchor="right", yanchor="middle", showarrow=False, text="mAU",
                            font=dict(size=8, color=INK, family=FONT)))
    annotations.append(dict(xref="paper", yref="paper", x=px(g["frame"][1] - 1), y=py(bot + 12),
                            xanchor="right", yanchor="middle", showarrow=False, text="min",
                            font=dict(size=8, color=INK, family=FONT)))
    for t, yv, txt in labels:
        annotations.append(dict(xref=xa, yref=ya, x=t, y=yv, text=txt, textangle=-90,
                                xanchor="center", yanchor="bottom", yshift=1, showarrow=False,
                                font=dict(size=7.8, color=INK, family=FONT)))
    for t, yv, txt in areas:
        annotations.append(dict(xref=xa, yref=ya, x=t, y=yv, text=txt, textangle=-50,
                                xanchor="center", yanchor="middle", showarrow=False,
                                font=dict(size=7.8, color=INK, family=FONT)))

for grp, g in GROUPS.items():
    l, r, t, b = g["frame"]
    shapes.append(dict(type="rect", xref="paper", yref="paper", x0=px(l), x1=px(r),
                       y0=py(b), y1=py(t), line=dict(color="#8a8a8a", width=1.2)))
    for s in g["seps"]:
        shapes.append(dict(type="line", xref="paper", yref="paper", x0=px(l), x1=px(r),
                           y0=py(s), y1=py(s), line=dict(color="#8a8a8a", width=1.2)))

layout["annotations"] = annotations
layout["shapes"] = shapes
fig.update_layout(**layout)
fig.write_html("out.html")
